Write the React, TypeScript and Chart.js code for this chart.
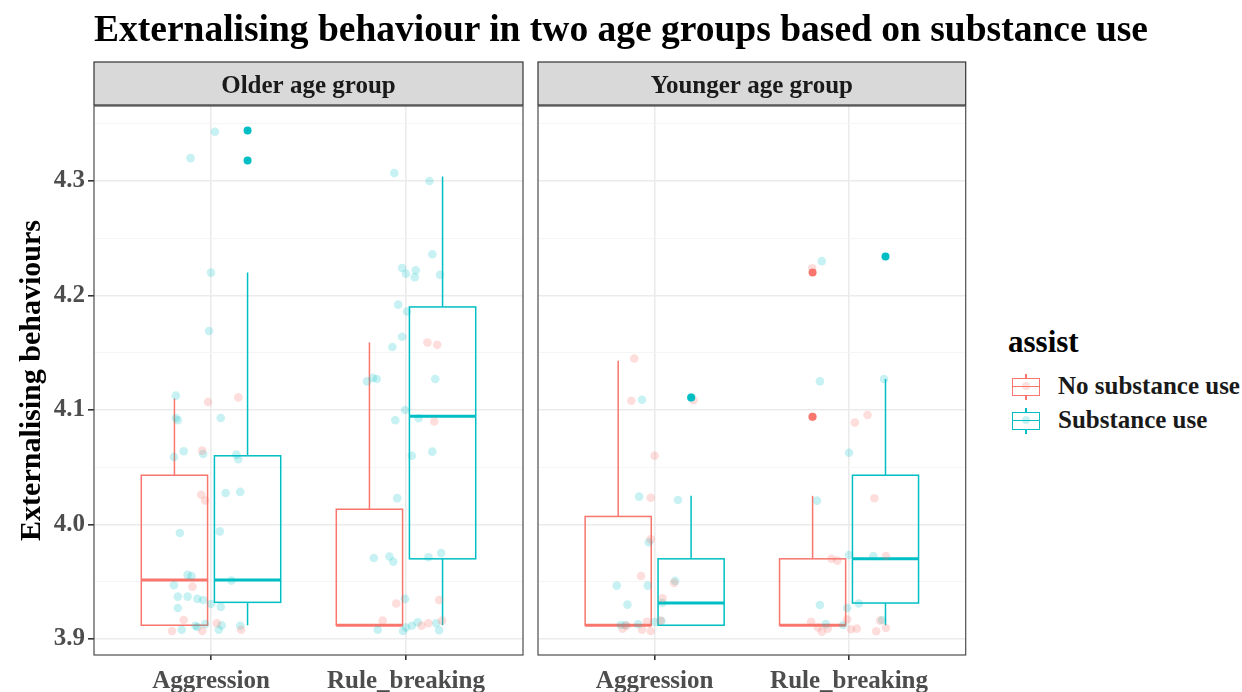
import React, { useEffect, useRef } from "react";
import { Chart, registerables } from "chart.js";

Chart.register(...registerables);

// ---------------- data ----------------
const categories = ["Aggression", "Rule_breaking"];
const groupNames = ["No substance use", "Substance use"];
const panelNames = ["Older age group", "Younger age group"];
const yMajorTicks = [3.9, 4.0, 4.1, 4.2, 4.3];
const yMinorTicks = [3.95, 4.05, 4.15, 4.25, 4.35];

// box statistics per category: [lower whisker, Q1, median, Q3, upper whisker]
const olderNoUseBox = [
  [3.912, 3.912, 3.9515, 4.043, 4.11],
  [3.912, 3.912, 3.912, 4.0133, 4.159],
];
const olderUseBox = [
  [3.912, 3.932, 3.9515, 4.06, 4.22],
  [3.912, 3.97, 4.0945, 4.19, 4.304],
];
const youngerNoUseBox = [
  [3.912, 3.912, 3.912, 4.007, 4.143],
  [3.912, 3.912, 3.912, 3.97, 4.025],
];
const youngerUseBox = [
  [3.912, 3.912, 3.9314, 3.97, 4.025],
  [3.912, 3.9314, 3.97, 4.043, 4.127],
];

// outliers: [category index, value]
const olderNoUseOut: number[][] = [];
const olderUseOut = [[0, 4.344], [0, 4.318]];
const youngerNoUseOut = [[1, 4.22], [1, 4.094]];
const youngerUseOut = [[0, 4.111], [1, 4.234]];

// jittered observations: [category index, value, jitter (category units)]
const olderNoUsePts = [
  [0, 4.107, -0.015], [0, 4.111, 0.14], [0, 4.0645, -0.045], [0, 4.026, -0.05],
  [0, 4.021, -0.03], [0, 3.9457, -0.095], [0, 3.9166, -0.14], [0, 3.9137, 0.03],
  [0, 3.907, -0.2], [0, 3.907, -0.045], [0, 3.908, 0.155],
  [1, 4.159, 0.11], [1, 4.157, 0.16], [1, 4.09, 0.145], [1, 3.931, -0.05],
  [1, 3.934, 0.17], [1, 3.916, -0.12], [1, 3.9116, 0.08], [1, 3.9137, 0.115],
  [1, 3.916, 0.185],
];
const olderUsePts = [
  [0, 4.343, 0.02], [0, 4.32, -0.105], [0, 4.22, 0.0], [0, 4.169, -0.01],
  [0, 4.1125, -0.18], [0, 4.093, -0.18], [0, 4.091, -0.17], [0, 4.093, 0.05],
  [0, 4.064, -0.14], [0, 4.059, -0.19], [0, 4.0615, -0.04], [0, 4.061, 0.13],
  [0, 4.057, 0.14], [0, 4.0275, 0.075], [0, 4.0285, 0.15], [0, 3.9926, -0.16],
  [0, 3.994, 0.045], [0, 3.956, -0.12], [0, 3.955, -0.1], [0, 3.951, 0.105],
  [0, 3.947, -0.19], [0, 3.937, -0.17], [0, 3.937, -0.12], [0, 3.935, -0.07],
  [0, 3.934, -0.04], [0, 3.9306, 0.0], [0, 3.928, 0.05], [0, 3.927, -0.17],
  [0, 3.9116, -0.08], [0, 3.9105, -0.07], [0, 3.913, -0.03], [0, 3.912, 0.055],
  [0, 3.9116, 0.15], [0, 3.908, -0.15], [0, 3.908, 0.04],
  [1, 4.307, -0.06], [1, 4.3, 0.12], [1, 4.236, 0.135], [1, 4.224, -0.02],
  [1, 4.219, 0.0], [1, 4.222, 0.05], [1, 4.216, 0.045], [1, 4.218, 0.175],
  [1, 4.192, -0.04], [1, 4.186, 0.005], [1, 4.164, -0.02], [1, 4.155, -0.07],
  [1, 4.125, -0.2], [1, 4.128, -0.17], [1, 4.127, -0.15], [1, 4.1, -0.005],
  [1, 4.091, -0.055], [1, 4.0928, 0.065], [1, 4.127, 0.15], [1, 4.0636, 0.135],
  [1, 4.06, 0.03], [1, 4.023, -0.045], [1, 3.9707, -0.165], [1, 3.972, -0.085],
  [1, 3.9675, -0.065], [1, 3.9714, 0.115], [1, 3.975, 0.18], [1, 3.935, -0.005],
  [1, 3.908, -0.145], [1, 3.907, -0.015], [1, 3.91, 0.0], [1, 3.9116, 0.03],
  [1, 3.9146, 0.06], [1, 3.9137, 0.155], [1, 3.9076, 0.17],
];
const youngerNoUsePts = [
  [0, 4.145, -0.105], [0, 4.108, -0.12], [0, 4.1085, 0.2], [0, 4.06, 0.0],
  [0, 4.0234, -0.02], [0, 3.987, -0.02], [0, 3.955, -0.07], [0, 3.949, 0.1],
  [0, 3.9355, 0.04], [0, 3.909, -0.165], [0, 3.9116, -0.145], [0, 3.908, -0.065],
  [0, 3.907, -0.02], [0, 3.915, -0.04], [0, 3.916, 0.03],
  [1, 4.2237, -0.19], [1, 4.094, -0.19], [1, 4.089, 0.03], [1, 4.0956, 0.095],
  [1, 4.0229, 0.13], [1, 3.97, -0.09], [1, 3.9684, -0.06], [1, 3.9725, 0.19],
  [1, 3.915, -0.195], [1, 3.91, -0.16], [1, 3.9064, -0.14], [1, 3.909, -0.11],
  [1, 3.917, -0.01], [1, 3.9085, 0.01], [1, 3.909, 0.04], [1, 3.9067, 0.14],
  [1, 3.9096, 0.19], [1, 3.916, 0.16],
];
const youngerUsePts = [
  [0, 4.109, -0.065], [0, 4.111, 0.19], [0, 4.0243, -0.08], [0, 4.0214, 0.12],
  [0, 3.9845, -0.03], [0, 3.9507, 0.105], [0, 3.9466, -0.195], [0, 3.9466, -0.035],
  [0, 3.93, -0.14], [0, 3.9317, 0.04], [0, 3.9122, -0.175], [0, 3.9122, -0.15],
  [0, 3.9128, -0.085], [0, 3.9148, 0.0], [0, 3.9157, 0.035],
  [1, 4.23, -0.14], [1, 4.125, -0.15], [1, 4.127, 0.18], [1, 4.0627, 0.0],
  [1, 4.0208, -0.165], [1, 3.9734, 0.0], [1, 3.9725, 0.125], [1, 3.9297, -0.15],
  [1, 3.927, -0.01], [1, 3.931, 0.05], [1, 3.913, -0.12], [1, 3.9122, -0.03],
  [1, 3.9166, 0.17],
];

// ---------------- style ----------------
const SERIF = "'Liberation Serif', 'Times New Roman', serif";
const RED = "#F8766D";
const TEAL = "#00BFC4";
const RED_FAINT = "rgba(248,118,109,0.24)";
const TEAL_FAINT = "rgba(0,191,196,0.22)";
const DODGE = 0.1875;
const HALF_BOX = 0.17;

const isMajor = (v: number) => yMajorTicks.some((t) => Math.abs(t - v) < 1e-6);

const boxPlugin = {
  id: "boxes",
  beforeDatasetsDraw(chart: any, _a: any, opts: any) {
    const { ctx } = chart;
    const x = chart.scales.x;
    const y = chart.scales.y;
    ctx.save();
    for (const s of opts.series) {
      s.stats.forEach((st: number[], i: number) => {
        const [lo, q1, med, q3, hi] = st.map((v) => y.getPixelForValue(v));
        const c = i + 1 + s.offset;
        const xl = x.getPixelForValue(c - HALF_BOX);
        const xr = x.getPixelForValue(c + HALF_BOX);
        const xc = x.getPixelForValue(c);
        ctx.strokeStyle = s.color;
        ctx.lineWidth = 1.5;
        ctx.beginPath();
        ctx.moveTo(xc, q3);
        ctx.lineTo(xc, hi);
        ctx.moveTo(xc, q1);
        ctx.lineTo(xc, lo);
        ctx.stroke();
        ctx.strokeRect(xl, q3, xr - xl, q1 - q3);
        ctx.lineWidth = 3;
        ctx.beginPath();
        ctx.moveTo(xl, med);
        ctx.lineTo(xr, med);
        ctx.stroke();
      });
    }
    ctx.restore();
  },
};

const panelPlugin = {
  id: "panel",
  afterDraw(chart: any, _a: any, opts: any) {
    const { ctx, chartArea: a } = chart;
    ctx.save();
    ctx.strokeStyle = "#4d4d4d";
    ctx.lineWidth = 1.2;
    ctx.strokeRect(a.left, a.top, a.right - a.left, a.bottom - a.top);
    const st = a.top - 44;
    ctx.fillStyle = "#d9d9d9";
    ctx.fillRect(a.left, st, a.right - a.left, 43);
    ctx.strokeStyle = "#333333";
    ctx.strokeRect(a.left, st, a.right - a.left, 43);
    ctx.fillStyle = "#1a1a1a";
    ctx.font = `bold 25px ${SERIF}`;
    ctx.textAlign = "center";
    ctx.textBaseline = "alphabetic";
    ctx.fillText(opts.text, (a.left + a.right) / 2, a.top - 13);
    ctx.restore();
  },
};

function makeConfig(
  panel: string,
  noBox: number[][],
  useBox: number[][],
  noPts: number[][],
  usePts: number[][],
  noOut: number[][],
  useOut: number[][],
  first: boolean
): any {
  return {
    type: "scatter",
    data: {
      datasets: [
        {
          label: groupNames[0] + " outliers",
          data: noOut.map(([c, v]) => ({ x: c + 1 - DODGE, y: v })),
          backgroundColor: RED,
          pointRadius: 4,
          borderWidth: 0,
          order: 1,
        },
        {
          label: groupNames[1] + " outliers",
          data: useOut.map(([c, v]) => ({ x: c + 1 + DODGE, y: v })),
          backgroundColor: TEAL,
          pointRadius: 4,
          borderWidth: 0,
          order: 2,
        },
        {
          label: groupNames[0],
          data: noPts.map(([c, v, j]) => ({ x: c + 1 + j, y: v })),
          backgroundColor: RED_FAINT,
          pointRadius: 4.3,
          borderWidth: 0,
          order: 3,
        },
        {
          label: groupNames[1],
          data: usePts.map(([c, v, j]) => ({ x: c + 1 + j, y: v })),
          backgroundColor: TEAL_FAINT,
          pointRadius: 4.3,
          borderWidth: 0,
          order: 4,
        },
      ],
    },
    options: {
      animation: false,
      responsive: false,
      devicePixelRatio: 1,
      events: [],
      layout: {
        padding: first
          ? { top: 106, right: 7, left: 0, bottom: 0 }
          : { top: 106, right: 3, left: 8, bottom: 0 },
      },
      plugins: {
        legend: { display: false },
        tooltip: { enabled: false },
        title: { display: false },
        boxes: {
          series: [
            { stats: noBox, color: RED, offset: -DODGE },
            { stats: useBox, color: TEAL, offset: DODGE },
          ],
        },
        panel: { text: panel },
      },
      scales: {
        x: {
          type: "linear",
          bounds: "data",
          min: 0.4,
          max: 2.6,
          afterBuildTicks: (s: any) => {
            s.ticks = categories.map((_, i) => ({ value: i + 1 }));
          },
          afterFit: (s: any) => {
            s.height = 37;
          },
          ticks: {
            autoSkip: false,
            maxRotation: 0,
            padding: 7,
            color: "#4d4d4d",
            font: { family: SERIF, size: 25, weight: "bold" },
            callback: (v: number) => categories[Math.round(v) - 1] ?? "",
          },
          grid: {
            color: "#ebebeb",
            lineWidth: 1.6,
            tickColor: "#333333",
            tickLength: 5,
          },
          border: { display: false },
        },
        y: {
          type: "linear",
          bounds: "data",
          min: 3.886,
          max: 4.3655,
          afterBuildTicks: (s: any) => {
            s.ticks = [...yMajorTicks, ...yMinorTicks]
              .sort((a, b) => a - b)
              .map((v) => ({ value: v }));
          },
          afterFit: (s: any) => {
            s.width = first ? 94 : 0;
          },
          ticks: {
            display: first,
            autoSkip: false,
            padding: 3,
            color: "#4d4d4d",
            font: { family: SERIF, size: 25, weight: "bold" },
            callback: (v: number) => (isMajor(v) ? Number(v).toFixed(1) : ""),
          },
          grid: {
            drawTicks: first,
            tickLength: 6,
            color: (c: any) => (c.tick && isMajor(c.tick.value) ? "#ebebeb" : "#f4f4f4"),
            lineWidth: (c: any) => (c.tick && isMajor(c.tick.value) ? 1.6 : 0.9),
            tickColor: (c: any) =>
              c.tick && isMajor(c.tick.value) ? "#333333" : "rgba(0,0,0,0)",
          },
          border: { display: false },
          title: {
            display: first,
            text: "Externalising behaviours",
            color: "#000000",
            font: { family: SERIF, size: 30, weight: "bold" },
            padding: { top: 14, bottom: 0 },
          },
        },
      },
    },
    plugins: [boxPlugin, panelPlugin],
  };
}

function LegendKey({ color }: { color: string }) {
  return (
    <div style={{ position: "relative", width: 28, height: 26 }}>
      <div style={{ position: "absolute", left: 13, top: 0, width: 1.5, height: 26, background: color }} />
      <div
        style={{
          position: "absolute",
          left: 0,
          top: 4,
          width: 26,
          height: 16,
          border: `1.5px solid ${color}`,
          background: "#ffffff",
        }}
      />
      <div style={{ position: "absolute", left: 0, top: 11.5, width: 28, height: 1.5, background: color }} />
      <div
        style={{
          position: "absolute",
          left: 9.5,
          top: 8,
          width: 8,
          height: 8,
          borderRadius: 4,
          background: color,
          opacity: 0.22,
        }}
      />
    </div>
  );
}

export default function App() {
  const c1 = useRef<HTMLCanvasElement>(null);
  const c2 = useRef<HTMLCanvasElement>(null);

  useEffect(() => {
    document.body.style.margin = "0";
    const ch1 = new Chart(
      c1.current!,
      makeConfig(panelNames[0], olderNoUseBox, olderUseBox, olderNoUsePts, olderUsePts, olderNoUseOut, olderUseOut, true)
    );
    const ch2 = new Chart(
      c2.current!,
      makeConfig(panelNames[1], youngerNoUseBox, youngerUseBox, youngerNoUsePts, youngerUsePts, youngerNoUseOut, youngerUseOut, false)
    );
    return () => {
      ch1.destroy();
      ch2.destroy();
    };
  }, []);

  const txt = (size: number): React.CSSProperties => ({
    position: "absolute",
    fontFamily: SERIF,
    fontWeight: "bold",
    fontSize: size,
    lineHeight: `${size}px`,
    whiteSpace: "nowrap",
  });

  return (
    <div style={{ position: "relative", width: 1242, height: 692, background: "#ffffff", overflow: "hidden" }}>
      <canvas ref={c1} width={530} height={692} style={{ position: "absolute", left: 0, top: 0, width: 530, height: 692 }} />
      <canvas ref={c2} width={440} height={692} style={{ position: "absolute", left: 530, top: 0, width: 440, height: 692 }} />
      <div style={{ ...txt(37.5), left: 0, width: 1242, top: 10, textAlign: "center", color: "#000" }}>
        Externalising behaviour in two age groups based on substance use
      </div>
      <div style={{ ...txt(31), left: 1008, top: 326, color: "#000" }}>assist</div>
      <div style={{ position: "absolute", left: 1012, top: 374 }}>
        <LegendKey color={RED} />
      </div>
      <div style={{ ...txt(25), left: 1058, top: 373, color: "#1a1a1a" }}>{groupNames[0]}</div>
      <div style={{ position: "absolute", left: 1012, top: 408 }}>
        <LegendKey color={TEAL} />
      </div>
      <div style={{ ...txt(25), left: 1058, top: 407, color: "#1a1a1a" }}>{groupNames[1]}</div>
    </div>
  );
}
